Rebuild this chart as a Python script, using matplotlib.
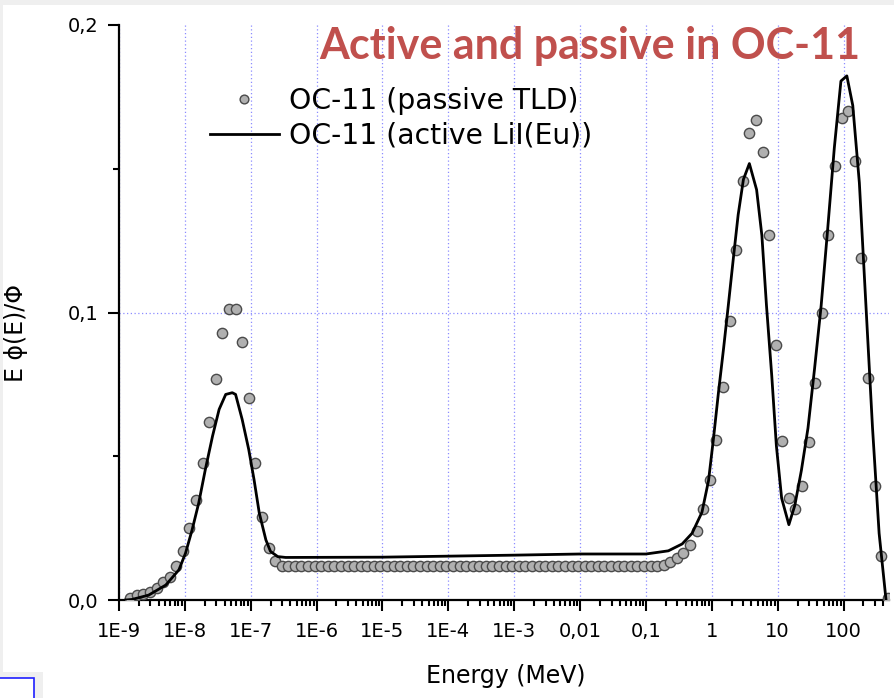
import numpy as np
import matplotlib.pyplot as plt
from matplotlib.patches import Rectangle
from matplotlib.ticker import FixedLocator, FixedFormatter, LogLocator, NullFormatter

# passive TLD points: log10(E / MeV) and E*phi(E)/Phi
tld_log_e = [
    -8.83, -8.73, -8.63, -8.53, -8.43, -8.33, -8.23, -8.13, -8.03, -7.93,
    -7.83, -7.73, -7.63, -7.53, -7.43, -7.33, -7.23, -7.13, -7.03, -6.93,
    -6.83, -6.73, -6.63, -6.53, -6.43, -6.33, -6.23, -6.13, -6.03, -5.93,
    -5.83, -5.73, -5.63, -5.53, -5.43, -5.33, -5.23, -5.13, -5.03, -4.93,
    -4.83, -4.73, -4.63, -4.53, -4.43, -4.33, -4.23, -4.13, -4.03, -3.93,
    -3.83, -3.73, -3.63, -3.53, -3.43, -3.33, -3.23, -3.13, -3.03, -2.93,
    -2.83, -2.73, -2.63, -2.53, -2.43, -2.33, -2.23, -2.13, -2.03, -1.93,
    -1.83, -1.73, -1.63, -1.53, -1.43, -1.33, -1.23, -1.13, -1.03, -0.93,
    -0.83, -0.73, -0.63, -0.53, -0.43, -0.33, -0.23, -0.13, -0.03, 0.07,
    0.17, 0.27, 0.37, 0.47, 0.57, 0.67, 0.77, 0.87, 0.97, 1.07,
    1.17, 1.27, 1.37, 1.47, 1.57, 1.67, 1.77, 1.87, 1.97, 2.07,
    2.17, 2.27, 2.37, 2.47, 2.57, 2.67,
]
tld_val = [
    0.0006, 0.0017, 0.0021, 0.0027, 0.0041, 0.0064, 0.0081, 0.0119, 0.0172, 0.0250,
    0.0349, 0.0477, 0.0619, 0.0770, 0.0930, 0.1012, 0.1012, 0.0899, 0.0703, 0.0477,
    0.0288, 0.0180, 0.0134, 0.0120, 0.0118, 0.0118, 0.0118, 0.0118, 0.0118, 0.0118,
    0.0118, 0.0118, 0.0118, 0.0118, 0.0118, 0.0118, 0.0118, 0.0118, 0.0118, 0.0118,
    0.0118, 0.0118, 0.0118, 0.0118, 0.0118, 0.0118, 0.0118, 0.0118, 0.0118, 0.0118,
    0.0118, 0.0118, 0.0118, 0.0118, 0.0118, 0.0118, 0.0118, 0.0118, 0.0118, 0.0118,
    0.0118, 0.0118, 0.0118, 0.0118, 0.0118, 0.0118, 0.0118, 0.0118, 0.0118, 0.0118,
    0.0118, 0.0118, 0.0118, 0.0118, 0.0118, 0.0118, 0.0118, 0.0118, 0.0118, 0.0118,
    0.0119, 0.0122, 0.0132, 0.0146, 0.0165, 0.0193, 0.0241, 0.0315, 0.0418, 0.0557,
    0.0741, 0.0970, 0.1217, 0.1457, 0.1626, 0.1668, 0.1559, 0.1268, 0.0888, 0.0552,
    0.0354, 0.0317, 0.0396, 0.0551, 0.0756, 0.1000, 0.1268, 0.1510, 0.1677, 0.1701,
    0.1528, 0.1189, 0.0772, 0.0396, 0.0152, 0.0006,
]

# active LiI(Eu) curve
lii_log_e = [
    -8.90, -8.80, -8.55, -8.29, -8.09, -7.99, -7.89, -7.79, -7.69, -7.58,
    -7.48, -7.38, -7.28, -7.23, -7.13, -7.03, -6.95, -6.87, -6.77, -6.70,
    -6.59, -6.47, -5.00, -3.00, -2.00, -1.00, -0.66, -0.45, -0.30, -0.15,
    -0.05, 0.025, 0.10, 0.18, 0.25, 0.33, 0.40, 0.48, 0.57, 0.68,
    0.76, 0.83, 0.91, 0.98, 1.06, 1.17, 1.26, 1.36, 1.46, 1.56,
    1.66, 1.76, 1.86, 1.96, 2.05, 2.14, 2.24, 2.34, 2.44, 2.54, 2.645,
]
lii_val = [
    0.0, 0.0002, 0.0017, 0.0052, 0.0105, 0.0163, 0.0244, 0.0337, 0.0453, 0.0570,
    0.0663, 0.0715, 0.0721, 0.0715, 0.0628, 0.0523, 0.0419, 0.0302, 0.0209, 0.0169,
    0.0151, 0.0148, 0.0149, 0.0156, 0.0160, 0.0160, 0.0171, 0.0195, 0.0232, 0.0305,
    0.0415, 0.0561, 0.0720, 0.0878, 0.1024, 0.1195, 0.1340, 0.1463, 0.1518, 0.1427,
    0.1268, 0.1024, 0.0780, 0.0537, 0.0354, 0.0262, 0.0329, 0.0451, 0.0598, 0.0805,
    0.1024, 0.1293, 0.1573, 0.1805, 0.1823, 0.1720, 0.1451, 0.1024, 0.0598, 0.0232, 0.0,
]

x_ticks = [1e-9, 1e-8, 1e-7, 1e-6, 1e-5, 1e-4, 1e-3, 1e-2, 1e-1, 1, 10, 100]
x_labels = ['1E-9', '1E-8', '1E-7', '1E-6', '1E-5', '1E-4', '1E-3',
            '0,01', '0,1', '1', '10', '100']
y_ticks = [0.0, 0.1, 0.2]
y_labels = ['0,0', '0,1', '0,2']

fig = plt.figure(figsize=(8.95, 6.98), dpi=100)
W, H = 895, 698

# slide frame bits around the chart
fig.patches.append(Rectangle((0, 1 - 5 / H), 1, 5 / H, transform=fig.transFigure,
                             facecolor='#efefef', edgecolor='none'))
fig.patches.append(Rectangle((0, 0), 3 / W, 1, transform=fig.transFigure,
                             facecolor='#efefef', edgecolor='none'))
fig.patches.append(Rectangle((0, 0), 43 / W, 26 / H, transform=fig.transFigure,
                             facecolor='#efefef', edgecolor='none'))
fig.patches.append(Rectangle((-0.01, -0.01), 34 / W + 0.01, 20 / H + 0.01,
                             transform=fig.transFigure, facecolor='white',
                             edgecolor='#1f1fff', linewidth=1.2))

ax = fig.add_axes([119 / W, 98 / H, 770 / W, 575 / H])

ax.plot(10 ** np.array(tld_log_e), tld_val, 'o', ms=7.4, mfc='#b0b0b0', mec='#4a4a4a',
        mew=1.0, label='OC-11 (passive TLD)', zorder=3)
ax.plot(10 ** np.array(lii_log_e), lii_val, '-', color='black', lw=2.0,
        label='OC-11 (active LiI(Eu))', zorder=4)

ax.set_xscale('log')
ax.set_xlim(1e-9, 10 ** 2.69)
ax.set_ylim(0, 0.2)

ax.xaxis.set_major_locator(FixedLocator(x_ticks))
ax.xaxis.set_major_formatter(FixedFormatter(x_labels))
ax.xaxis.set_minor_locator(LogLocator(base=10, subs=np.arange(2, 10), numticks=100))
ax.xaxis.set_minor_formatter(NullFormatter())
ax.yaxis.set_major_locator(FixedLocator(y_ticks))
ax.yaxis.set_major_formatter(FixedFormatter(y_labels))
ax.yaxis.set_minor_locator(FixedLocator([0.05, 0.15]))

for s in ['top', 'right']:
    ax.spines[s].set_visible(False)
for s in ['left', 'bottom']:
    ax.spines[s].set_linewidth(1.6)

ax.tick_params(which='major', direction='out', length=8, width=1.5, labelsize=14,
               colors='black')
ax.tick_params(which='minor', direction='out', length=4.5, width=1.5)
ax.tick_params(axis='y', which='major', pad=7)
ax.tick_params(axis='x', which='major', pad=8)

ax.grid(True, axis='x', which='major', color='#8c8cff', linestyle=(0, (1, 2)), lw=0.9)
ax.axhline(0.1, color='#8c8cff', linestyle=(0, (1, 2)), lw=0.9, zorder=0.5)
ax.set_axisbelow(True)

ax.set_xlabel('Energy (MeV)', fontsize=17)
ax.xaxis.set_label_coords(0.5026, -0.112)
ax.set_ylabel('E ϕ(E)/Φ', fontsize=17)
ax.yaxis.set_label_coords(-0.118, 0.464)

ax.legend(loc='upper left', bbox_to_anchor=(0.118, 0.893), frameon=False, fontsize=20.3,
          handlelength=2.45, handletextpad=0.37, labelspacing=0.25, borderpad=0,
          borderaxespad=0, markerscale=0.85)

fig.text(590 / W, 1 - 46 / H, 'Active and passive in OC-11', ha='center', va='center',
         fontsize=31, fontweight='bold', color='#c0504d', family='Lato')

fig.savefig('out.png', dpi=100)
